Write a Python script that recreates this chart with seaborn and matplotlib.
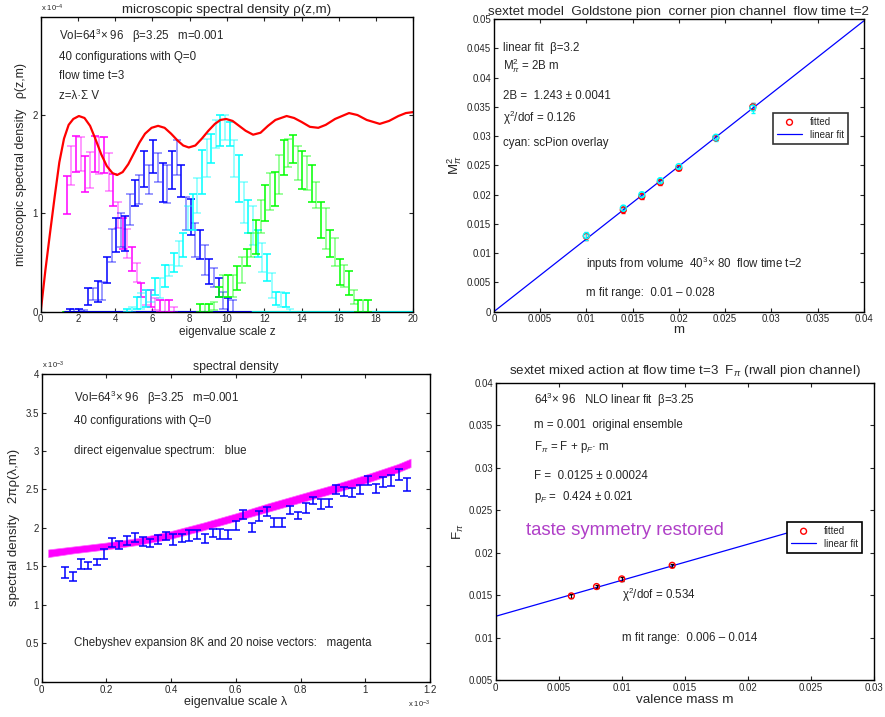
import numpy as np
import matplotlib
matplotlib.use("Agg")
import matplotlib.pyplot as plt
import seaborn as sns

# ---------------- top left: microscopic spectral density (units 1e-4)
rmt_z = [0.0, 0.25, 0.5, 0.75, 1.0, 1.25, 1.5, 1.75, 2.05, 2.35, 2.65, 2.95, 3.25, 3.55,
         3.85, 4.1, 4.4, 4.7, 5.0, 5.3, 5.6, 5.95, 6.3, 6.65, 7.0, 7.35, 7.65, 7.95, 8.3,
         8.65, 9.0, 9.35, 9.65, 9.95, 10.3, 10.65, 11.0, 11.4, 11.8, 12.2, 12.6, 13.2,
         13.6, 14.0, 14.45, 14.9, 15.3, 15.8, 16.55, 17.0, 17.5, 18.2, 18.7, 19.2, 19.6, 20.0]
rmt_rho = [0.0, 0.42, 0.80, 1.17, 1.52, 1.76, 1.90, 1.96, 1.99, 1.97, 1.89, 1.75, 1.60, 1.48,
           1.41, 1.39, 1.42, 1.50, 1.61, 1.72, 1.81, 1.87, 1.89, 1.87, 1.81, 1.74, 1.69, 1.67,
           1.69, 1.76, 1.84, 1.91, 1.95, 1.96, 1.94, 1.89, 1.84, 1.80, 1.82, 1.89, 1.95, 1.99,
           1.97, 1.93, 1.88, 1.87, 1.90, 1.96, 2.02, 2.00, 1.95, 1.91, 1.94, 1.99, 2.02, 2.03]

mag_z = [1.40, 1.65, 1.90, 2.15, 2.40, 2.65, 2.90, 3.15, 3.40, 3.65, 3.90, 4.15, 4.40, 4.65,
         4.90, 5.15, 5.40, 5.65, 5.90, 6.15, 6.40, 6.65, 6.90, 7.15]
mag_lo = [0.99, 1.29, 1.42, 1.43, 1.22, 1.26, 1.42, 1.40, 1.41, 1.23, 1.07, 0.85, 0.64, 0.55,
          0.41, 0.30, 0.15, 0.07, 0.05, 0.02, 0.00, 0.00, 0.00, 0.00]
mag_hi = [1.38, 1.68, 1.79, 1.78, 1.58, 1.62, 1.79, 1.78, 1.78, 1.61, 1.40, 1.12, 0.95, 0.84,
          0.66, 0.50, 0.29, 0.22, 0.22, 0.14, 0.12, 0.12, 0.12, 0.05]

blue_z = [1.55, 1.80, 2.05, 2.30, 2.55, 2.80, 3.05, 3.30, 3.55, 3.80, 4.05, 4.30, 4.55, 4.80,
          5.05, 5.30, 5.55, 5.80, 6.05, 6.30, 6.55, 6.80, 7.05, 7.30, 7.55, 7.80, 8.05, 8.30,
          8.55, 8.80, 9.05, 9.30, 9.55, 9.80, 10.05, 10.30]
blue_lo = [0.00, 0.00, 0.00, 0.00, 0.07, 0.12, 0.10, 0.12, 0.29, 0.51, 0.61, 0.66, 0.62, 0.88,
           1.07, 1.10, 1.27, 1.20, 1.41, 1.32, 1.12, 1.11, 1.25, 1.39, 1.17, 0.83, 0.78, 0.56,
           0.54, 0.37, 0.28, 0.25, 0.15, 0.03, 0.00, 0.00]
blue_hi = [0.03, 0.03, 0.03, 0.02, 0.24, 0.24, 0.31, 0.30, 0.56, 0.84, 0.95, 1.00, 0.97, 1.20,
           1.34, 1.39, 1.63, 1.49, 1.75, 1.61, 1.51, 1.49, 1.63, 1.75, 1.49, 1.17, 1.15, 0.90,
           0.83, 0.68, 0.54, 0.44, 0.34, 0.20, 0.14, 0.12]

cyan_z = [4.65, 4.90, 5.15, 5.40, 5.65, 5.90, 6.15, 6.40, 6.65, 6.90, 7.15, 7.40, 7.65, 7.90,
          8.15, 8.40, 8.65, 8.90, 9.15, 9.40, 9.65, 9.90, 10.15, 10.40, 10.65, 10.90, 11.15,
          11.40, 11.65, 11.90, 12.15, 12.40, 12.65, 12.90, 13.15, 13.40]
cyan_lo = [0.00, 0.00, 0.03, 0.03, 0.05, 0.10, 0.17, 0.14, 0.25, 0.36, 0.40, 0.46, 0.56, 0.83,
           0.83, 1.00, 1.20, 1.37, 1.51, 1.66, 1.68, 1.75, 1.68, 1.37, 1.12, 0.90, 0.80, 0.68,
           0.56, 0.40, 0.31, 0.14, 0.07, 0.05, 0.05, 0.00]
cyan_hi = [0.03, 0.05, 0.15, 0.19, 0.22, 0.22, 0.34, 0.34, 0.47, 0.47, 0.60, 0.72, 0.80, 1.07,
           1.20, 1.36, 1.64, 1.76, 1.81, 1.95, 2.00, 2.00, 1.93, 1.75, 1.59, 1.32, 1.14, 1.07,
           0.83, 0.70, 0.59, 0.39, 0.20, 0.20, 0.19, 0.03]

green_z = [8.55, 8.80, 9.05, 9.30, 9.55, 9.80, 10.05, 10.30, 10.55, 10.80, 11.05, 11.30, 11.55,
           11.80, 12.05, 12.30, 12.55, 12.80, 13.05, 13.30, 13.55, 13.80, 14.05, 14.30, 14.55,
           14.80, 15.05, 15.30, 15.55, 15.80, 16.05, 16.30, 16.55, 16.80, 17.05, 17.30, 17.55]
green_lo = [0.00, 0.00, 0.00, 0.02, 0.15, 0.15, 0.15, 0.15, 0.22, 0.29, 0.46, 0.56, 0.59, 0.80,
            0.92, 1.03, 1.07, 1.20, 1.39, 1.47, 1.51, 1.34, 1.25, 1.24, 1.12, 1.05, 0.75, 0.64,
            0.56, 0.46, 0.27, 0.25, 0.17, 0.08, 0.00, 0.00, 0.00]
green_hi = [0.08, 0.08, 0.08, 0.10, 0.25, 0.37, 0.37, 0.37, 0.46, 0.56, 0.64, 0.80, 0.93, 1.14,
            1.29, 1.41, 1.42, 1.59, 1.75, 1.76, 1.80, 1.68, 1.63, 1.58, 1.49, 1.32, 1.12, 1.05,
            0.83, 0.75, 0.54, 0.47, 0.41, 0.22, 0.12, 0.12, 0.12]

# zero-level baselines of the histograms (start, end in z)
base_blue = [1.3, 11.3]
base_cyan = [11.3, 20.0]
base_green = [1.2, 20.0]

# ---------------- top right: Goldstone pion M_pi^2 vs m
gp_m = [0.010, 0.014, 0.016, 0.018, 0.020, 0.024, 0.028]
gp_fit = [0.0129, 0.0174, 0.0197, 0.0221, 0.0245, 0.0297, 0.0350]
gp_fit_err = [0.0006, 0.0005, 0.0004, 0.0004, 0.0003, 0.0004, 0.0006]
gp_sc = [0.0130, 0.0177, 0.0200, 0.0224, 0.0248, 0.0298, 0.0348]
gp_sc_err = [0.0007, 0.0005, 0.0004, 0.0004, 0.0003, 0.0006, 0.0008]
gp_line_m = [0.0, 0.04]
gp_line_y = [0.0, 0.0497]

# ---------------- bottom left: spectral density (units 1e-3)
dir_lam = [0.072, 0.096, 0.120, 0.144, 0.170, 0.193, 0.216, 0.240, 0.264, 0.288, 0.312, 0.336,
           0.360, 0.384, 0.407, 0.433, 0.455, 0.481, 0.505, 0.528, 0.551, 0.577, 0.600, 0.623,
           0.649, 0.673, 0.695, 0.718, 0.744, 0.767, 0.791, 0.816, 0.839, 0.863, 0.888, 0.911,
           0.935, 0.960, 0.984, 1.007, 1.032, 1.056, 1.080, 1.104, 1.130]
dir_hi = [1.495, 1.43, 1.59, 1.56, 1.60, 1.73, 1.87, 1.83, 1.89, 1.93, 1.885, 1.86, 1.91, 1.95,
          1.915, 1.92, 1.97, 1.97, 1.92, 1.99, 1.99, 1.97, 2.09, 2.23, 2.07, 2.22, 2.275, 2.13,
          2.13, 2.29, 2.21, 2.32, 2.405, 2.375, 2.375, 2.56, 2.535, 2.52, 2.56, 2.67, 2.57,
          2.665, 2.69, 2.765, 2.65]
dir_lo = [1.343, 1.31, 1.47, 1.46, 1.52, 1.60, 1.755, 1.72, 1.78, 1.82, 1.76, 1.75, 1.79, 1.84,
          1.78, 1.82, 1.83, 1.85, 1.80, 1.88, 1.86, 1.85, 1.97, 2.11, 1.95, 2.09, 2.15, 2.01,
          2.01, 2.18, 2.11, 2.20, 2.305, 2.25, 2.275, 2.44, 2.42, 2.40, 2.44, 2.56, 2.45,
          2.535, 2.54, 2.62, 2.48]

cheb_lam = [0.02, 0.1, 0.2, 0.3, 0.4, 0.5, 0.6, 0.7, 0.8, 0.9, 1.0, 1.1, 1.14]
cheb_lo = [1.62, 1.67, 1.72, 1.78, 1.86, 1.97, 2.09, 2.21, 2.33, 2.45, 2.58, 2.72, 2.79]
cheb_hi = [1.72, 1.76, 1.81, 1.87, 1.96, 2.07, 2.19, 2.32, 2.44, 2.56, 2.69, 2.83, 2.90]

# ---------------- bottom right: F_pi vs valence mass
fp_m = [0.006, 0.008, 0.010, 0.014]
fp_val = [0.0149, 0.0160, 0.0169, 0.0185]
fp_err = [0.0002, 0.0002, 0.0002, 0.0002]
fp_line_m = [0.0, 0.025]
fp_line_y = [0.0125, 0.0231]

sns.set_style("ticks")
plt.rcParams["font.family"] = ["Liberation Sans", "DejaVu Sans"]
plt.rcParams["mathtext.fontset"] = "custom"
plt.rcParams["mathtext.rm"] = "Liberation Sans"
plt.rcParams["mathtext.it"] = "Liberation Sans:italic"
plt.rcParams["mathtext.bf"] = "Liberation Sans:bold"
plt.rcParams["axes.linewidth"] = 1.0

fig = plt.figure(figsize=(8.85, 7.17), dpi=100)
ax1 = fig.add_axes([0.046, 0.5653, 0.421, 0.4114])
ax2 = fig.add_axes([0.558, 0.5653, 0.418, 0.408])
ax3 = fig.add_axes([0.0471, 0.0492, 0.4388, 0.4291])
ax4 = fig.add_axes([0.5601, 0.0516, 0.4274, 0.4147])

fmt = matplotlib.ticker.FuncFormatter(lambda v, _: f"{v:g}")
for ax in (ax1, ax2, ax3, ax4):
    ax.tick_params(direction="in", top=True, right=True, labelsize=7, length=3, width=0.8, pad=2)
    ax.xaxis.set_major_formatter(fmt)
    ax.yaxis.set_major_formatter(fmt)
    for s in ax.spines.values():
        s.set_color("black")

TXT = 8.3

# --- top left
def hist_bars(ax, z, lo, hi, color):
    z, lo, hi = np.array(z), np.array(lo), np.array(hi)
    mid, err = (lo + hi) / 2, (hi - lo) / 2
    for sl, a in ((slice(0, None, 2), 1.0), (slice(1, None, 2), 0.5)):
        ax.errorbar(z[sl], mid[sl], yerr=err[sl], fmt="none", ecolor=color,
                    elinewidth=1.1, capsize=2.6, capthick=1.1, alpha=a)

ax1.plot(base_green, [0, 0], color="lime", linewidth=1.5)
ax1.plot(base_cyan, [0, 0], color="cyan", linewidth=1.5)
ax1.plot(base_blue, [0, 0], color="blue", linewidth=1.5)
hist_bars(ax1, mag_z, mag_lo, mag_hi, "magenta")
hist_bars(ax1, blue_z, blue_lo, blue_hi, "blue")
hist_bars(ax1, cyan_z, cyan_lo, cyan_hi, "cyan")
hist_bars(ax1, green_z, green_lo, green_hi, "lime")
sns.lineplot(x=rmt_z, y=rmt_rho, ax=ax1, color="red", linewidth=1.6)
ax1.set_xlim(0, 20)
ax1.set_ylim(0, 3)
ax1.set_xticks(range(0, 21, 2))
ax1.set_yticks([0, 1, 2])
ax1.set_title("microscopic spectral density ρ(z,m)", fontsize=9.6, pad=3)
ax1.set_xlabel("eigenvalue scale z", fontsize=8.5, labelpad=1)
ax1.set_ylabel("microscopic spectral density   ρ(z,m)", fontsize=9, labelpad=4)
ax1.text(0, 1.01, r"x 10$^{-4}$", transform=ax1.transAxes, fontsize=5.5, va="bottom")
for yv, s in ((2.80, r"Vol=64$^3$× 96   β=3.25   m=0.001"),
              (2.59, "40 configurations with Q=0"),
              (2.40, "flow time t=3"),
              (2.19, "z=λ·Σ V")):
    ax1.text(1.0, yv, s, fontsize=TXT, va="center")

# --- top right
ax2.errorbar(gp_m, gp_fit, yerr=gp_fit_err, fmt="none", ecolor="red", elinewidth=1, capsize=1.5)
ax2.errorbar(gp_m, gp_sc, yerr=gp_sc_err, fmt="none", ecolor="cyan", elinewidth=1, capsize=1.5)
sns.scatterplot(x=gp_m, y=gp_fit, ax=ax2, marker="o", s=18, facecolor="none",
                edgecolor="red", linewidth=1, label="fitted", zorder=3)
sns.scatterplot(x=gp_m, y=gp_sc, ax=ax2, marker="o", s=18, facecolor="none",
                edgecolor="cyan", linewidth=1, zorder=4)
sns.lineplot(x=gp_line_m, y=gp_line_y, ax=ax2, color="blue", linewidth=0.9, label="linear fit")
ax2.set_xlim(0, 0.04)
ax2.set_ylim(0, 0.05)
ax2.set_xticks(np.arange(0, 0.0401, 0.005))
ax2.set_yticks(np.arange(0, 0.0501, 0.005))
ax2.set_title("sextet model  Goldstone pion  corner pion channel  flow time t=2", fontsize=9.6, pad=3)
ax2.set_xlabel("m", fontsize=9.5, labelpad=0)
ax2.set_ylabel(r"M$_\pi^2$", fontsize=9.5, labelpad=2)
leg = ax2.legend(loc="upper right", bbox_to_anchor=(0.97, 0.696), fontsize=7, frameon=True,
                 fancybox=False, edgecolor="black", handlelength=2.6, borderpad=0.4,
                 labelspacing=0.3)
leg.get_frame().set_linewidth(1.2)
for yv, s in ((0.0450, "linear fit  β=3.2"),
              (0.0421, r"M$_\pi^2$ = 2B m"),
              (0.0369, "2B =  1.243 ± 0.0041"),
              (0.0331, r"χ$^2$/dof = 0.126"),
              (0.0289, "cyan: scPion overlay")):
    ax2.text(0.001, yv, s, fontsize=TXT, va="center")
ax2.text(0.01, 0.00815, r"inputs from volume  40$^3$× 80  flow time t=2", fontsize=TXT, va="center")
ax2.text(0.01, 0.00314, "m fit range:  0.01 – 0.028", fontsize=TXT, va="center")

# --- bottom left
ax3.fill_between(cheb_lam, cheb_lo, cheb_hi, color="magenta", linewidth=0.5, edgecolor="#ff66ff")
dl, dh = np.array(dir_lo), np.array(dir_hi)
ax3.errorbar(dir_lam, (dl + dh) / 2, yerr=(dh - dl) / 2, fmt="none", ecolor="blue",
             elinewidth=1.1, capsize=2.6, capthick=1.1)
ax3.set_xlim(0, 1.2)
ax3.set_ylim(0, 4)
ax3.set_xticks(np.arange(0, 1.201, 0.2))
ax3.set_yticks(np.arange(0, 4.01, 0.5))
ax3.set_title("spectral density", fontsize=8.8, pad=3)
ax3.set_xlabel("eigenvalue scale λ", fontsize=9, labelpad=1)
ax3.set_ylabel("spectral density   2πρ(λ,m)", fontsize=9.5, labelpad=4)
ax3.text(0, 1.01, r"x 10$^{-3}$", transform=ax3.transAxes, fontsize=5.5, va="bottom")
ax3.text(1.0, -0.055, r"x 10$^{-3}$", transform=ax3.transAxes, fontsize=5.5, va="top", ha="right")
for yv, s in ((3.685, r"Vol=64$^3$× 96   β=3.25   m=0.001"),
              (3.39, "40 configurations with Q=0"),
              (3.0, "direct eigenvalue spectrum:   blue"),
              (0.50, "Chebyshev expansion 8K and 20 noise vectors:   magenta")):
    ax3.text(0.10, yv, s, fontsize=TXT, va="center")

# --- bottom right
sns.lineplot(x=fp_line_m, y=fp_line_y, ax=ax4, color="blue", linewidth=0.9, label="linear fit")
ax4.errorbar(fp_m, fp_val, yerr=fp_err, fmt="none", ecolor="black", elinewidth=0.8, capsize=1.5)
sns.scatterplot(x=fp_m, y=fp_val, ax=ax4, marker="o", s=18, facecolor="none",
                edgecolor="red", linewidth=1, label="fitted", zorder=3)
ax4.set_xlim(0, 0.03)
ax4.set_ylim(0.005, 0.04)
ax4.set_xticks(np.arange(0, 0.0301, 0.005))
ax4.set_yticks(np.arange(0.005, 0.0401, 0.005))
ax4.set_title(r"sextet mixed action at flow time t=3  F$_\pi$ (rwall pion channel)", fontsize=9.6, pad=6)
ax4.set_xlabel("valence mass m", fontsize=9.7, labelpad=1)
ax4.set_ylabel(r"F$_\pi$", fontsize=9.5, labelpad=2)
h, l = ax4.get_legend_handles_labels()
leg = ax4.legend(h[::-1], l[::-1], loc="upper right", bbox_to_anchor=(0.981, 0.548), fontsize=7,
                 frameon=True, fancybox=False, edgecolor="black", handlelength=2.6,
                 borderpad=0.4, labelspacing=0.3, framealpha=1)
leg.get_frame().set_linewidth(1.2)
for yv, s in ((0.0380, r"64$^3$× 96   NLO linear fit  β=3.25"),
              (0.0350, "m = 0.001  original ensemble"),
              (0.03247, r"F$_\pi$ = F + p$_F$· m"),
              (0.0290, "F =  0.0125 ± 0.00024"),
              (0.02658, r"p$_F$ =  0.424 ± 0.021")):
    ax4.text(0.003, yv, s, fontsize=TXT, va="center")
ax4.text(0.0024, 0.02254, "taste symmetry restored", fontsize=13.3, color="#b040c8", va="center")
ax4.text(0.010, 0.0150, r"χ$^2$/dof = 0.534", fontsize=TXT, va="center")
ax4.text(0.010, 0.0100, "m fit range:  0.006 – 0.014", fontsize=TXT, va="center")

fig.savefig("out.png", dpi=100)
